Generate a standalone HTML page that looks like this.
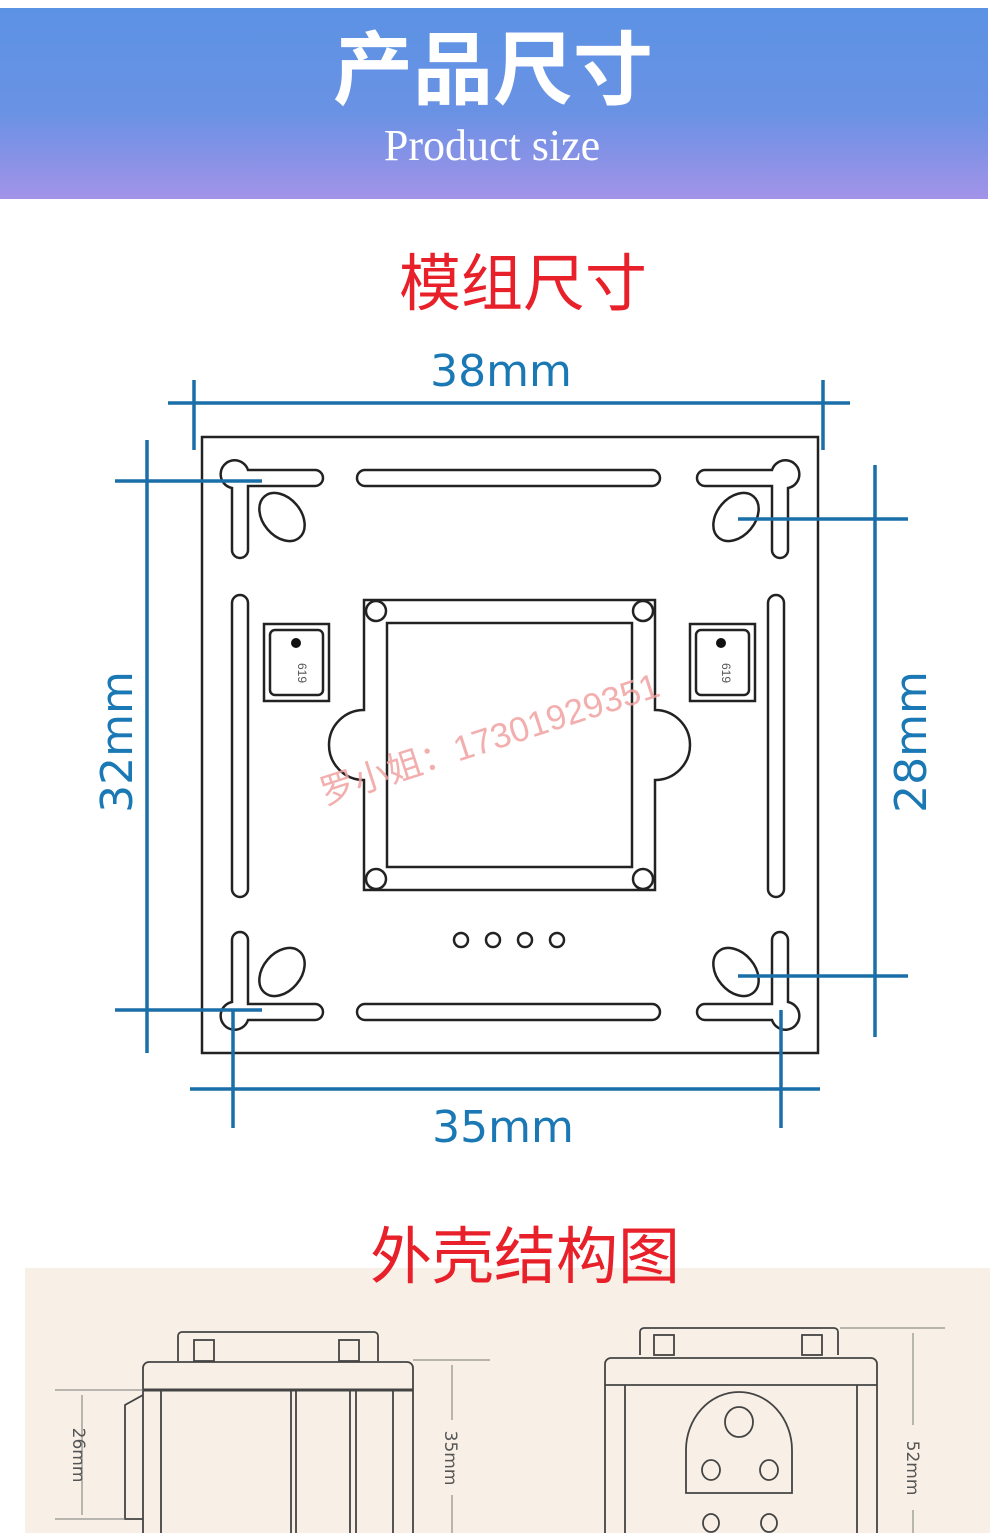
<!DOCTYPE html>
<html><head><meta charset="utf-8"><style>
body{margin:0;background:#fff;}
svg{display:block}
</style></head><body>
<svg width="990" height="1533" viewBox="0 0 990 1533" xmlns="http://www.w3.org/2000/svg">
<defs><linearGradient id="g" x1="0" y1="0" x2="0" y2="1"><stop offset="0" stop-color="#5c92e4"/><stop offset="0.55" stop-color="#6a92e4"/><stop offset="1" stop-color="#a293e8"/></linearGradient></defs>
<rect x="0" y="8" width="988" height="191" fill="url(#g)"/>
<text x="493" y="98" text-anchor="middle" font-family="Noto Sans CJK SC, sans-serif" font-weight="bold" font-size="80" fill="#fff">产品尺寸</text>
<text x="492" y="160" text-anchor="middle" font-family="Liberation Serif, serif" font-size="44" fill="#fff">Product size</text>
<text x="523" y="305" text-anchor="middle" font-family="Liberation Sans, Noto Sans CJK SC, sans-serif" font-size="62" fill="#e8202a">模组尺寸</text>
<g fill="none" stroke="#222" stroke-width="2.5">
<rect x="202" y="437" width="616" height="616"/>
<path d="M248 486 v64 a8 8 0 0 1 -16 0 v-62 a14 14 0 1 1 16 -18 h67 a8 8 0 0 1 0 16 z"/>
<path d="M772 486 v64 a8 8 0 0 0 16 0 v-62 a14 14 0 1 0 -16 -18 h-67 a8 8 0 0 0 0 16 z"/>
<path d="M248 1004 v-64 a8 8 0 0 0 -16 0 v62 a14 14 0 1 0 16 18 h67 a8 8 0 0 0 0 -16 z"/>
<path d="M772 1004 v-64 a8 8 0 0 1 16 0 v62 a14 14 0 1 1 -16 18 h-67 a8 8 0 0 1 0 -16 z"/>
<rect x="357" y="470" width="303" height="16" rx="8"/>
<rect x="357" y="1004" width="303" height="16" rx="8"/>
<rect x="232" y="595" width="16" height="302" rx="8"/>
<rect x="768" y="595" width="16" height="302" rx="8"/>
<ellipse cx="282" cy="517" rx="19" ry="27" transform="rotate(-40 282 517)"/>
<ellipse cx="736" cy="517" rx="19" ry="27" transform="rotate(40 736 517)"/>
<ellipse cx="282" cy="972" rx="19" ry="27" transform="rotate(40 282 972)"/>
<ellipse cx="736" cy="972" rx="19" ry="27" transform="rotate(-40 736 972)"/>
<path d="M364 600 h291 v110 a35 35 0 0 1 0 70 v110 h-291 v-110 a35 35 0 0 1 0 -70z"/>
<rect x="387" y="623" width="245" height="244"/>
<circle cx="376" cy="611" r="10"/><circle cx="643" cy="611" r="10"/>
<circle cx="376" cy="879" r="10"/><circle cx="643" cy="879" r="10"/>
<rect x="264" y="624" width="65" height="77"/><rect x="270" y="630" width="53" height="65" rx="5"/>
<rect x="690" y="624" width="65" height="77"/><rect x="696" y="630" width="53" height="65" rx="5"/>
<circle cx="461" cy="940" r="7"/><circle cx="493" cy="940" r="7"/><circle cx="525" cy="940" r="7"/><circle cx="557" cy="940" r="7"/>
</g>
<circle cx="296" cy="643" r="5" fill="#111"/><circle cx="721" cy="643" r="5" fill="#111"/>
<text x="298" y="673" font-family="Liberation Sans,sans-serif" font-size="12" fill="#555" text-anchor="middle" transform="rotate(90 298 673)">619</text>
<text x="722" y="673" font-family="Liberation Sans,sans-serif" font-size="12" fill="#555" text-anchor="middle" transform="rotate(90 722 673)">619</text>
<text x="325" y="805" font-family="Liberation Sans, Noto Sans CJK SC, sans-serif" font-size="35" fill="#f1a0a0" opacity="0.85" transform="rotate(-18 325 805)">罗小姐：17301929351</text>
<g stroke="#1a6fa8" stroke-width="3.5" fill="none">
<path d="M168 403 H850 M194 380 V450 M823 380 V450"/>
<path d="M147 440 V1053 M115 481 H262 M115 1010 H262"/>
<path d="M875 465 V1037 M738 519 H908 M738 976 H908"/>
<path d="M190 1089 H820 M233 1010 V1128 M781 1010 V1128"/>
</g>
<g font-family="DejaVu Sans, sans-serif" font-size="44" fill="#1a78b4">
<text x="501" y="386" text-anchor="middle">38mm</text>
<text x="503" y="1142" text-anchor="middle">35mm</text>
<text transform="translate(132 742) rotate(-90)" text-anchor="middle">32mm</text>
<text transform="translate(926 742) rotate(-90)" text-anchor="middle">28mm</text>
</g>
<rect x="25" y="1268" width="965" height="265" fill="#f8f0e6"/>
<text x="525" y="1278" text-anchor="middle" font-family="Liberation Sans, Noto Sans CJK SC, sans-serif" font-size="62" fill="#e8202a">外壳结构图</text>
<g fill="none" stroke="#444" stroke-width="1.8">
<path d="M178 1361 v-25 a4 4 0 0 1 4 -4 h192 a4 4 0 0 1 4 4 v25"/>
<rect x="194" y="1340" width="20" height="21"/><rect x="339" y="1340" width="20" height="21"/>
<path d="M143 1533 V1368 a6 6 0 0 1 6 -6 h258 a6 6 0 0 1 6 6 V1533"/>
<path d="M143 1390 H413" stroke-width="3"/>
<path d="M161 1390 V1533 M291 1390 V1533 M296 1390 V1533 M350 1390 V1533 M356 1390 V1533 M393 1390 V1533"/>
<path d="M143 1395 L125 1405 V1519 H143"/>
<path d="M640 1355 v-23 a4 4 0 0 1 4 -4 h190 a4 4 0 0 1 4 4 v23"/>
<rect x="654" y="1335" width="20" height="20"/><rect x="802" y="1335" width="20" height="20"/>
<path d="M605 1533 V1364 a6 6 0 0 1 6 -6 h260 a6 6 0 0 1 6 6 V1533"/>
<path d="M605 1385 H877 M625 1385 V1533 M857 1385 V1533"/>
<path d="M686 1493 V1450 a53 58 0 0 1 106 0 V1493 Z"/>
<ellipse cx="739" cy="1422" rx="14" ry="15"/>
<ellipse cx="711" cy="1470" rx="9" ry="10"/><ellipse cx="769" cy="1470" rx="9" ry="10"/>
<ellipse cx="711" cy="1523" rx="8" ry="9"/><ellipse cx="769" cy="1523" rx="8" ry="9"/>
</g>
<g stroke="#777" stroke-width="1" fill="none">
<path d="M55 1390 H143 M55 1519 H125 M82 1395 V1515"/>
<path d="M413 1360 H490 M452 1365 V1420 M452 1495 V1533"/>
<path d="M840 1328 H945 M913 1333 V1425 M913 1510 V1533"/>
</g>
<g font-family="DejaVu Sans, sans-serif" font-size="17" fill="#555">
<text transform="translate(73 1455) rotate(90)" text-anchor="middle">26mm</text>
<text transform="translate(445 1458) rotate(90)" text-anchor="middle">35mm</text>
<text transform="translate(907 1468) rotate(90)" text-anchor="middle">52mm</text>
</g>
</svg>
</body></html>
